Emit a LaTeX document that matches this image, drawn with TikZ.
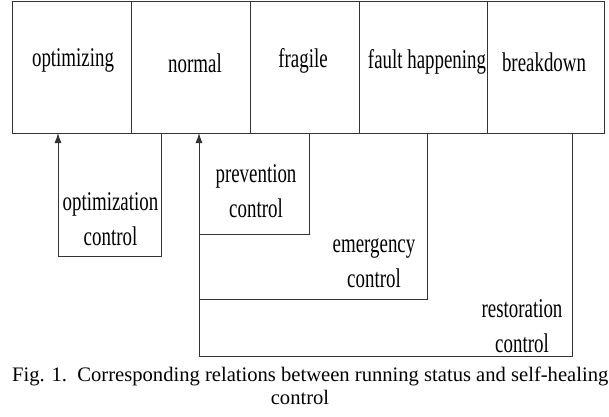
\documentclass[tikz,border=0pt]{standalone}
\usepackage{fontspec}
\setmainfont{Liberation Serif}
\newfontfamily\lblfont[FakeStretch=0.7]{Liberation Serif}
\usetikzlibrary{arrows.meta,calc}
\begin{document}
\begin{tikzpicture}[x=1pt,y=-1pt,
  status/.style={draw=black!80, line width=0.9pt, minimum height=132pt, inner sep=0pt, outer sep=0pt, anchor=north west},
  lab/.style={font=\lblfont\fontsize{27}{35}\selectfont, anchor=base, inner sep=0pt, align=center},
  captext/.style={font=\fontsize{20.6}{23}\selectfont, anchor=base, inner sep=0pt},
  ctrl/.style={draw=black!80, line width=0.9pt},
  up/.style={ctrl, -{Latex[length=10pt,width=7pt]}},
]
\useasboundingbox (0,0) rectangle (609,416);
% status boxes
\node[status, minimum width=118.3pt] (opt) at (12.7,1) {};
\node[status, minimum width=119pt] (normal) at (131,1) {};
\node[status, minimum width=109pt] (fragile) at (250,1) {};
\node[status, minimum width=128pt] (fault) at (359,1) {};
\node[status, minimum width=117pt] (breakdown) at (487,1) {};
% status labels
\node[lab] (lopt) at (73,66) {optimizing};
\node[lab] (lnormal) at (195,72) {normal};
\node[lab] (lfragile) at (303,67) {fragile};
\node[lab] (lfault) at (427,68) {fault happening};
\node[lab] (lbreak) at (544,71) {breakdown};
% control connectors
\draw[up] ([xshift=30.7pt]normal.south west) -- ++(0,123) -| ([xshift=45.3pt]opt.south west);
\draw[up] ([xshift=85pt]breakdown.south west) -- ++(0,223) -| ([xshift=68pt]normal.south west);
\draw[ctrl] ([xshift=59pt]fragile.south west) |- ($(normal.south west)+(68,101)$);
\draw[ctrl] ([xshift=68pt]fault.south west) |- ($(normal.south west)+(68,166)$);
% control labels (anchored at the baseline of the last line)
\node[lab] (lopc) at (110.5,245) {optimization\\control};
\node[lab] (lprc) at (256,217) {prevention\\control};
\node[lab] (lemc) at (374,287) {emergency\\control};
\node[lab] (lrec) at (522,352) {restoration\\control};
% caption
\node[captext, anchor=base west] (cap1) at (12,381) {Fig. 1.\ \ Corresponding relations between running status and self-healing};
\node[captext] (cap2) at (300,404) {control};
\end{tikzpicture}
\end{document}
